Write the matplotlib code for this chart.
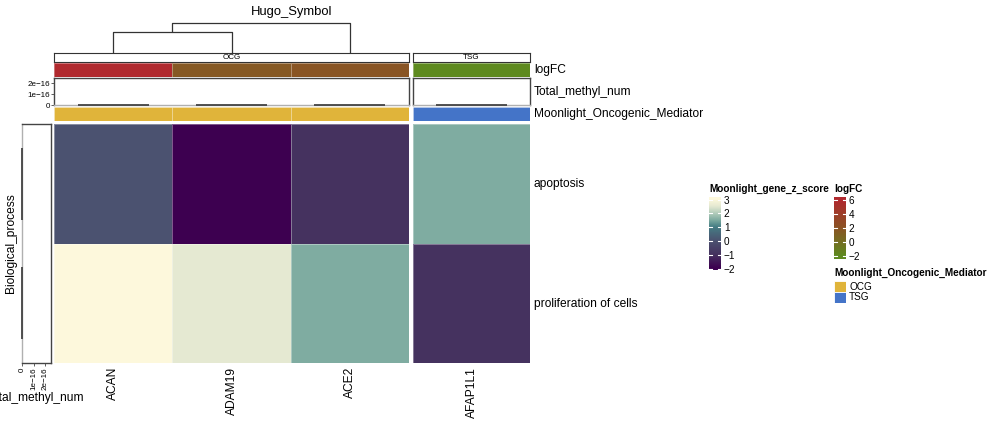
import numpy as np
import matplotlib
matplotlib.use("Agg")
import matplotlib.pyplot as plt
from matplotlib.colors import LinearSegmentedColormap, Normalize

plt.rcParams['font.family'] = ['Liberation Sans', 'DejaVu Sans']

# ---------------- data ----------------
genes = ["ACAN", "ADAM19", "ACE2", "AFAP1L1"]
processes = ["apoptosis", "proliferation of cells"]
z_apoptosis = [0.0, -2.0, -1.0, 1.5]
z_proliferation = [3.0, 2.5, 1.5, -1.0]
log_fc = [6.0, 1.6, 1.9, -2.0]
mediator = ["OCG", "OCG", "OCG", "TSG"]
total_methyl_num_genes = [0, 0, 0, 0]
total_methyl_num_processes = [0, 0]
dendro_heights = [1.9, 2.7]          # merge (ACAN, ADAM19), then + ACE2
z_ticks = [-2, -1, 0, 1, 2, 3]
fc_ticks = [-2, 0, 2, 4, 6]
methyl_ticks = [0, 1e-16, 2e-16]
methyl_tick_labels = ["0", "1e\u221216", "2e\u221216"]
slice_names = ["OCG", "TSG"]

# ---------------- styles ----------------
mediator_colors = {"OCG": "#e0b43a", "TSG": "#4474c8"}
z_anchor_vals = [-2, -1, 0, 1, 1.5, 2, 2.5, 3]
z_anchor_cols = ['#3d0050', '#45325f', '#4b5270', '#457d84', '#7eaba0',
                 '#b3cdbb', '#e5e9d2', '#fdf8dc']
fc_anchor_vals = [-2, 2, 6]
fc_anchor_cols = ['#5e8a1f', '#8a5424', '#b0292e']


def make_cmap(vals, cols):
    lo, hi = vals[0], vals[-1]
    pos = [(v - lo) / (hi - lo) for v in vals]
    return LinearSegmentedColormap.from_list("c", list(zip(pos, cols))), Normalize(lo, hi)


z_cmap, z_norm = make_cmap(z_anchor_vals, z_anchor_cols)
fc_cmap, fc_norm = make_cmap(fc_anchor_vals, fc_anchor_cols)

W, H = 992, 425
fig = plt.figure(figsize=(W / 100, H / 100), dpi=100)


def box(x0, y0, x1, y1):
    return fig.add_axes([x0 / W, 1 - y1 / H, (x1 - x0) / W, (y1 - y0) / H])


def px(x, y):
    return x / W, 1 - y / H


FS_LAB = 8.64
FS_TITLE = 9.36
FS_LEG = 7.2
FS_AX = 5.8
DARK = '#444444'
LIGHT = '#b0b0b0'

z_mat = np.array([z_apoptosis, z_proliferation])
slice_px = {"OCG": (54, 409), "TSG": (413, 530)}
cell_edge = (1, 1, 1, 0.35)

for s in slice_names:
    idx = [i for i, m in enumerate(mediator) if m == s]
    n = len(idx)
    x0, x1 = slice_px[s]
    xs = np.arange(n) + 0.5

    # slice title box
    ax = box(x0, 53, x1, 62)
    ax.set_xlim(0, 1); ax.set_ylim(0, 1)
    ax.set_xticks([]); ax.set_yticks([])
    for sp in ax.spines.values():
        sp.set_color('#333333'); sp.set_linewidth(0.8)
    ax.text(0.5, 0.45, s, ha='center', va='center', fontsize=FS_AX)

    # logFC strip
    ax = box(x0, 63, x1, 77)
    ax.pcolormesh(np.array([[log_fc[i] for i in idx]]), cmap=fc_cmap, norm=fc_norm,
                  edgecolors=cell_edge, linewidth=0.4)
    ax.set_xlim(0, n); ax.set_ylim(0, 1); ax.axis('off')

    # Total_methyl_num barplot
    ax = box(x0, 78, x1, 105)
    ax.bar(xs, [total_methyl_num_genes[i] for i in idx], width=0.6,
           facecolor='#bebebe', edgecolor=DARK, linewidth=1.3, clip_on=False, zorder=3)
    ax.set_xlim(0, n); ax.set_ylim(0, 2.5e-16)
    ax.set_xticks([])
    for k, sp in ax.spines.items():
        sp.set_color(DARK if k != 'bottom' else LIGHT); sp.set_linewidth(1.0)
    if s == "OCG":
        ax.set_yticks(methyl_ticks)
        ax.set_yticklabels(methyl_tick_labels)
        ax.tick_params(axis='y', length=2, width=0.6, pad=1, labelsize=FS_AX, color=DARK)
    else:
        ax.set_yticks([])

    # Mediator strip
    ax = box(x0, 107, x1, 121)
    ax.bar(xs, [1] * n, width=1, color=[mediator_colors[mediator[i]] for i in idx],
           edgecolor=cell_edge, linewidth=0.4)
    ax.set_xlim(0, n); ax.set_ylim(0, 1); ax.axis('off')

    # heatmap body
    ax = box(x0, 124, x1, 363)
    ax.pcolormesh(z_mat[:, idx], cmap=z_cmap, norm=z_norm,
                  edgecolors=cell_edge, linewidth=0.4)
    ax.set_xlim(0, n); ax.set_ylim(2, 0); ax.axis('off')

    # column labels
    for j, i in enumerate(idx):
        cx = x0 + (x1 - x0) * (j + 0.5) / n
        fig.text(*px(cx, 367), genes[i], rotation=90, ha='center', va='top', fontsize=FS_LAB)

    # dendrogram (OCG slice only)
    if s == "OCG":
        ax = box(x0, 23, x1, 53)
        h1, h2 = dendro_heights
        lk = dict(color='#333333', lw=0.9, clip_on=False, solid_capstyle='butt')
        ax.plot([xs[0], xs[0], xs[1], xs[1]], [0, h1, h1, 0], **lk)
        mid = (xs[0] + xs[1]) / 2
        ax.plot([mid, mid, xs[2], xs[2]], [h1, h2, h2, 0], **lk)
        ax.set_xlim(0, n); ax.set_ylim(0, h2); ax.axis('off')

# annotation names on right
fig.text(*px(534, 70), "logFC", ha='left', va='center', fontsize=FS_LAB)
fig.text(*px(534, 92), "Total_methyl_num", ha='left', va='center', fontsize=FS_LAB)
fig.text(*px(534, 114), "Moonlight_Oncogenic_Mediator", ha='left', va='center', fontsize=FS_LAB)
# row labels
fig.text(*px(534, 184), processes[0], ha='left', va='center', fontsize=FS_LAB)
fig.text(*px(534, 303.5), processes[1], ha='left', va='center', fontsize=FS_LAB)

# title
fig.text(*px(292, 12), "Hugo_Symbol", ha='center', va='center', fontsize=FS_TITLE)
fig.text(*px(11, 243.5), "Biological_process", ha='center', va='center', rotation=90, fontsize=FS_LAB)

# left row annotation
ax = box(22, 124, 51, 363)
ax.barh([0.5, 1.5], total_methyl_num_processes, height=0.6, facecolor='#bebebe',
        edgecolor=DARK, linewidth=1.3, clip_on=False, zorder=3)
ax.set_ylim(2, 0); ax.set_xlim(0, 2.5e-16)
ax.set_yticks([])
for k, sp in ax.spines.items():
    sp.set_color(DARK if k != 'left' else LIGHT); sp.set_linewidth(1.0)
ax.set_xticks(methyl_ticks)
ax.set_xticklabels(methyl_tick_labels, rotation=90)
ax.tick_params(axis='x', length=2, width=0.6, pad=1, labelsize=FS_AX, color=DARK)
fig.text(*px(84, 398.5), "Total_methyl_num", ha='right', va='center', fontsize=FS_LAB)


# ---------------- legends ----------------
def colorbar(x0, y0, x1, y1, cmap, norm, lo, hi, ticks):
    ax = box(x0, y0, x1, y1)
    grad = np.linspace(lo, hi, 300)[:, None]
    ax.imshow(grad, extent=[0, 1, lo, hi], origin='lower', aspect='auto', cmap=cmap, norm=norm)
    ax.set_xlim(0, 1); ax.set_ylim(lo, hi)
    for t in ticks:
        ax.plot([0, 0.22], [t, t], color='white', lw=0.8)
        ax.plot([0.78, 1], [t, t], color='white', lw=0.8)
    ax.set_xticks([])
    ax.yaxis.tick_right()
    ax.set_yticks(ticks)
    ax.set_yticklabels([str(t).replace('-', '\u2212') for t in ticks])
    ax.tick_params(axis='y', length=0, pad=2, labelsize=FS_LEG)
    for sp in ax.spines.values():
        sp.set_visible(False)


fig.text(*px(709, 189), "Moonlight_gene_z_score", ha='left', va='center',
         fontsize=FS_LEG, fontweight='bold')
colorbar(709, 196.5, 721, 270.5, z_cmap, z_norm, -2.13, 3.22, z_ticks)

fig.text(*px(834, 189), "logFC", ha='left', va='center', fontsize=FS_LEG, fontweight='bold')
colorbar(834, 196.5, 846, 258.5, fc_cmap, fc_norm, -2.4, 6.45, fc_ticks)

fig.text(*px(834, 272.5), "Moonlight_Oncogenic_Mediator", ha='left', va='center',
         fontsize=FS_LEG, fontweight='bold')
for k, name in enumerate(slice_names):
    yt = 281 + k * 11
    lax = box(834, yt, 846, yt + 11)
    lax.bar([0.5], [1], width=1, color=mediator_colors[name], edgecolor='white', linewidth=0.6)
    lax.set_xlim(0, 1); lax.set_ylim(0, 1); lax.axis('off')
    fig.text(*px(849, yt + 5.5), name, ha='left', va='center', fontsize=FS_LEG)

fig.savefig("out.png", dpi=100)
